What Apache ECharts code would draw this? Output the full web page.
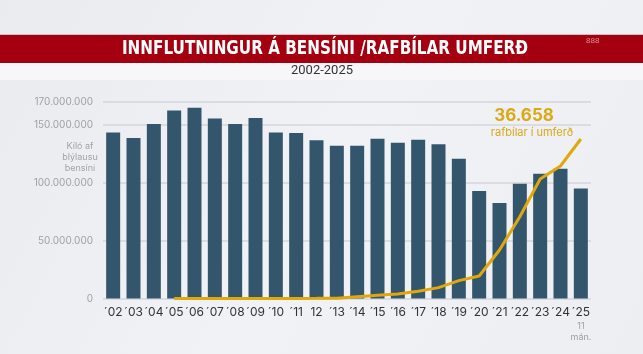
<!DOCTYPE html>
<html><head><meta charset="utf-8">
<script src="https://cdn.jsdelivr.net/npm/echarts@6/dist/echarts.min.js"></script>
<style>html,body{margin:0;padding:0;background:#eef0f4}#c{width:643px;height:354px}</style>
</head><body><div id="c"></div>
<script>
const categories = ["´02","´03","´04","´05","´06","´07","´08","´09","´10","´11","12","´13","´14","´15","´16","´17","´18","´19","´20","´21","´22","´23","´24","´25"];
const fuelImports = [143500000,138700000,150800000,162300000,164700000,155400000,150800000,156000000,143400000,143000000,136600000,132000000,132000000,138000000,134600000,137200000,133200000,120800000,92800000,82400000,99100000,107800000,112100000,95100000];
const evFleet = [null,null,null,0,0,0,0,0,10,20,30,60,400,730,1050,1650,2500,4100,5170,11150,18800,27460,30450,36658];
const yTicks = [0,50000000,100000000,150000000,170000000];

const chart = echarts.init(document.getElementById('c'), null, {renderer:'canvas'});
const fmt = v => String(v).replace(/\B(?=(\d{3})+(?!\d))/g, '.');
chart.setOption({
  backgroundColor: {type:'linear',x:0,y:0,x2:1,y2:1,colorStops:[{offset:0,color:'#e9ebef'},{offset:0.5,color:'#f1f2f5'},{offset:1,color:'#eceef2'}]},
  animation:false,
  graphic:[
    {type:'rect',shape:{x:0,y:34,width:643,height:1},style:{fill:'#c9c2c4'}},
    {type:'rect',shape:{x:0,y:35,width:643,height:28},style:{fill:'#a4000f'}},
    {type:'rect',shape:{x:0,y:63,width:643,height:17},style:{fill:'#f7f7f9'}},
    {type:'text',x:325,y:49,scaleX:0.845,style:{text:'INNFLUTNINGUR Á BENSÍNI /RAFBÍLAR UMFERÐ',fill:'#ffffff',font:'bold 20px "DejaVu Sans Condensed", sans-serif',textAlign:'center',textVerticalAlign:'middle'}},
    {type:'text',x:586,y:37,style:{text:'888',fill:'#d98a92',font:'8px "Liberation Sans", sans-serif'}},
    {type:'text',x:322,y:71,style:{text:'2002-2025',fill:'#333',font:'13px "Roboto", "Liberation Sans", sans-serif',textAlign:'center',textVerticalAlign:'middle'}},
    {type:'text',x:80,y:141,style:{text:'Kíló af\nblýlausu\nbensíni',fill:'#a0a4aa',font:'9px "Inter", "Liberation Sans", sans-serif',textAlign:'center',lineHeight:11}},
    {type:'text',x:524,y:107,style:{text:'36.658',fill:'#dca813',font:'bold 17px "Inter", "Liberation Sans", sans-serif',textAlign:'center'}},
    {type:'text',x:532,y:127,style:{text:'rafbílar í umferð',fill:'#dca813',font:'11px "Inter", "Liberation Sans", sans-serif',textAlign:'center'}},
    {type:'text',x:581,y:321,style:{text:'11\nmán.',fill:'#9aa0a8',font:'9px "Inter", "Liberation Sans", sans-serif',textAlign:'center',lineHeight:11}}
  ],
  grid:{left:103,right:52,top:101.7,bottom:55.5},
  xAxis:{type:'category',data:categories,axisLine:{show:false},axisTick:{show:false},
    axisLabel:{color:'#333',fontSize:12,margin:8,fontFamily:'"Inter","Liberation Sans",sans-serif',interval:0}},
  yAxis:[
    {type:'value',min:0,max:170000000,interval:50000000,
     axisLabel:{color:'#9ea2a8',fontSize:10,margin:10,fontFamily:'"Inter","Liberation Sans",sans-serif',formatter:v=>yTicks.indexOf(v)>=0?fmt(v):''},
     splitLine:{lineStyle:{color:'#d3d6dc',width:1.5}},axisLine:{show:false},axisTick:{show:false}},
    {type:'value',min:0,max:45230,show:false,splitLine:{show:false}}
  ],
  series:[
    {type:'bar',data:fuelImports,barWidth:14,itemStyle:{color:'#34566c'}},
    {type:'line',yAxisIndex:1,data:evFleet,symbol:'none',smooth:false,lineStyle:{color:'#e0a80a',width:3},connectNulls:false}
  ]
});
</script></body></html>
